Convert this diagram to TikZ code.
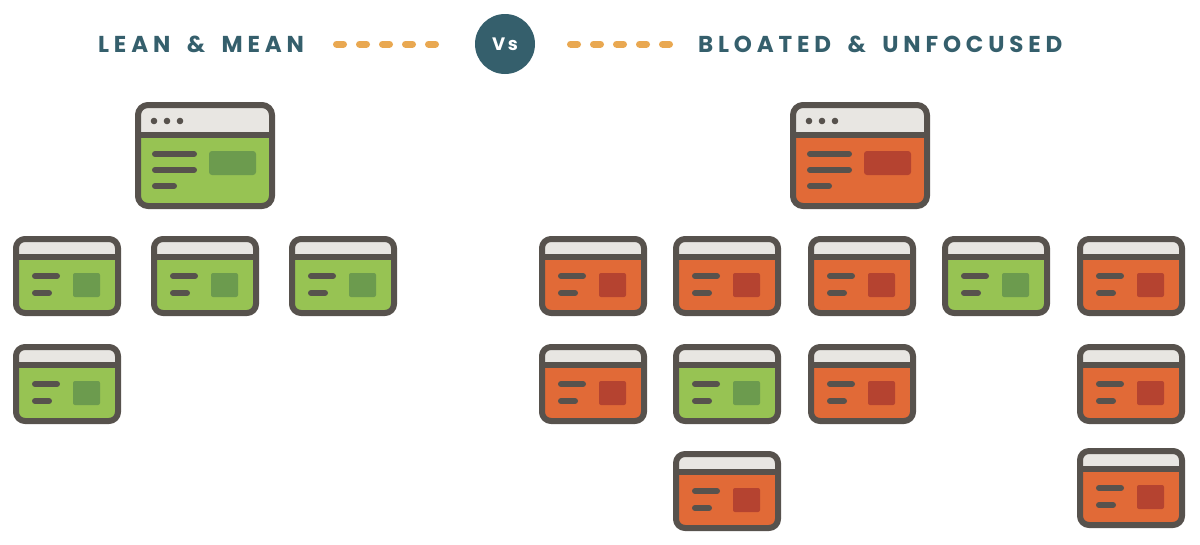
\documentclass[tikz,border=0pt]{standalone}
\usepackage{fontspec}
\setmainfont{Poppins}
\newfontfamily\titlefont[LetterSpace=21,WordSpace=1.7]{Poppins}
\newfontfamily\vsfont[LetterSpace=14]{Poppins}
\definecolor{frame}{HTML}{57524D}
\definecolor{bar}{HTML}{E8E6E2}
\definecolor{leaf}{HTML}{97C353}
\definecolor{leafbox}{HTML}{6C9B4E}
\definecolor{rust}{HTML}{E16A37}
\definecolor{rustbox}{HTML}{B54330}
\definecolor{teal}{HTML}{355F6C}
\definecolor{sand}{HTML}{E9A851}
\tikzset{
  heading/.style={inner sep=0pt,text=teal,font=\titlefont\bfseries\fontsize{23}{23}\selectfont},
  dashline/.style={draw=sand,line width=7pt,line cap=round,dash pattern=on 7pt off 16pt},
  outline/.style={draw=frame,line width=6pt,line join=round},
  textline/.style={draw=frame,line width=6pt,line cap=round}
}
% x y body panel
\newcommand{\smallcard}[4]{
\begin{scope}[shift={(#1,#2)}]
\fill [#3,rounded corners=9pt] (3,3) rectangle (105,77);
\fill [bar,rounded corners=9pt] (3,3) -- (3,21) -- (105,21) -- (105,3) -- cycle;
\draw [outline,rounded corners=9pt] (3,3) rectangle (105,77);
\draw [outline] (3,21) -- (105,21);
\draw [textline] (22,40) -- (44,40);
\draw [textline] (22,57) -- (36,57);
\fill [#4,rounded corners=2pt] (60,37) rectangle (87,61);
\end{scope}}
\newcommand{\bigcard}[4]{
\begin{scope}[shift={(#1,#2)}]
\fill [#3,rounded corners=10pt] (3,3) rectangle (137,104);
\fill [bar,rounded corners=10pt] (3,3) -- (3,33) -- (137,33) -- (137,3) -- cycle;
\draw [outline,rounded corners=10pt] (3,3) rectangle (137,104);
\draw [outline] (3,33) -- (137,33);
\foreach \dotx in {19,32,45} \fill [frame] (\dotx,19) circle (3.3);
\draw [textline] (20,52) -- (59,52);
\draw [textline] (20,68) -- (59,68);
\draw [textline] (20,84) -- (39,84);
\fill [#4,rounded corners=3pt] (74,49) rectangle (121,73);
\end{scope}}
\begin{document}
\begin{tikzpicture}[x=1pt,y=-1pt]
\useasboundingbox (0,0) rectangle (1200,544);
\node [heading,anchor=west] (lean) at (98,44) {LEAN \& MEAN};
\node [heading,anchor=west] (bloated) at (698,44) {BLOATED \& UNFOCUSED};
\node [circle,fill=teal,minimum size=60pt,inner sep=0pt,text=white,font=\vsfont\bfseries\fontsize{18}{18}\selectfont] (vs) at (505,44) {Vs};
\coordinate (leftstart) at (336.5,44);
\coordinate (leftend) at (436,44);
\coordinate (rightstart) at (570.5,44);
\coordinate (rightend) at (670,44);
\draw [dashline] (leftstart) -- (leftend);
\draw [dashline] (rightstart) -- (rightend);
% left group
\bigcard{135}{102}{leaf}{leafbox}
\foreach \cardx in {13,151,289} {\smallcard{\cardx}{236}{leaf}{leafbox}}
\smallcard{13}{344}{leaf}{leafbox}
% right group
\bigcard{790}{102}{rust}{rustbox}
\foreach \cardx in {539,673,808,1077} {\smallcard{\cardx}{236}{rust}{rustbox}}
\smallcard{942}{236}{leaf}{leafbox}
\foreach \cardx in {539,808,1077} {\smallcard{\cardx}{344}{rust}{rustbox}}
\smallcard{673}{344}{leaf}{leafbox}
\smallcard{673}{451}{rust}{rustbox}
\smallcard{1077}{448}{rust}{rustbox}
\end{tikzpicture}
\end{document}
